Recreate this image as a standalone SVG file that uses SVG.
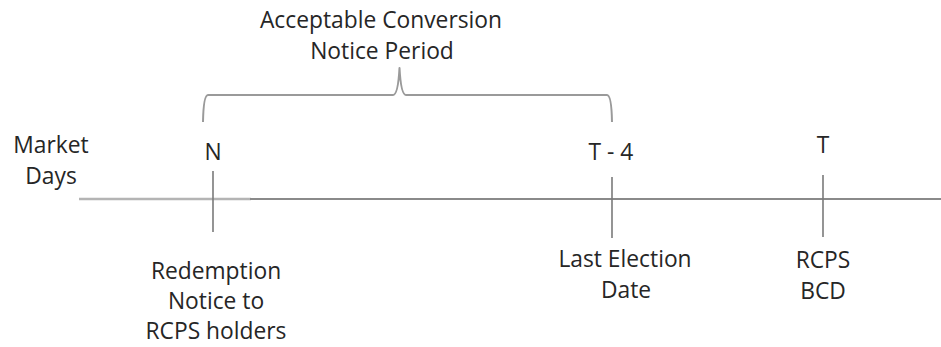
<svg xmlns="http://www.w3.org/2000/svg" width="941" height="347" viewBox="0 0 941 347">
  <style>
    .lbl { font-family: "Open Sans", "Noto Sans", "DejaVu Sans", sans-serif; font-size: 22.8px; fill: #262626; text-anchor: middle; }
    .tick { stroke: #7a7a7a; stroke-width: 1.6; fill: none; }
    .brace { stroke: #9a9a9a; stroke-width: 2; fill: none; stroke-linejoin: round; }
  </style>
  <rect width="941" height="347" fill="#ffffff"/>

  <!-- timeline axis and brace -->
  <g id="connectors">
    <line x1="79" y1="199" x2="251" y2="199" stroke="#b4b4b4" stroke-width="2.6"/>
    <line x1="250" y1="199" x2="941" y2="199" stroke="#8a8a8a" stroke-width="1.8"/>
    <path class="brace" d="M203,122 Q203.5,95 208,95 L393,95 Q398,95 399.5,68 Q401,95 406,95 L607,95 Q611.5,95 612,122"/>
  </g>

  <g id="brace-label">
    <text class="lbl" x="381" y="28">Acceptable Conversion</text>
    <text class="lbl" x="382" y="59">Notice Period</text>
  </g>

  <g id="axis-label">
    <text class="lbl" x="51" y="153">Market</text>
    <text class="lbl" x="51" y="184">Days</text>
  </g>

  <g id="node-n">
    <text class="lbl" x="213" y="160">N</text>
    <line class="tick" x1="213" y1="171" x2="213" y2="232"/>
    <text class="lbl" x="216" y="279">Redemption</text>
    <text class="lbl" x="216" y="309">Notice to</text>
    <text class="lbl" x="216" y="339">RCPS holders</text>
  </g>

  <g id="node-t4">
    <text class="lbl" x="611" y="160">T - 4</text>
    <line class="tick" x1="612" y1="177" x2="612" y2="238"/>
    <text class="lbl" x="625" y="267">Last Election</text>
    <text class="lbl" x="626" y="298">Date</text>
  </g>

  <g id="node-t">
    <text class="lbl" x="823" y="153">T</text>
    <line class="tick" x1="823" y1="175" x2="823" y2="237"/>
    <text class="lbl" x="823" y="268">RCPS</text>
    <text class="lbl" x="823" y="299">BCD</text>
  </g>
</svg>
